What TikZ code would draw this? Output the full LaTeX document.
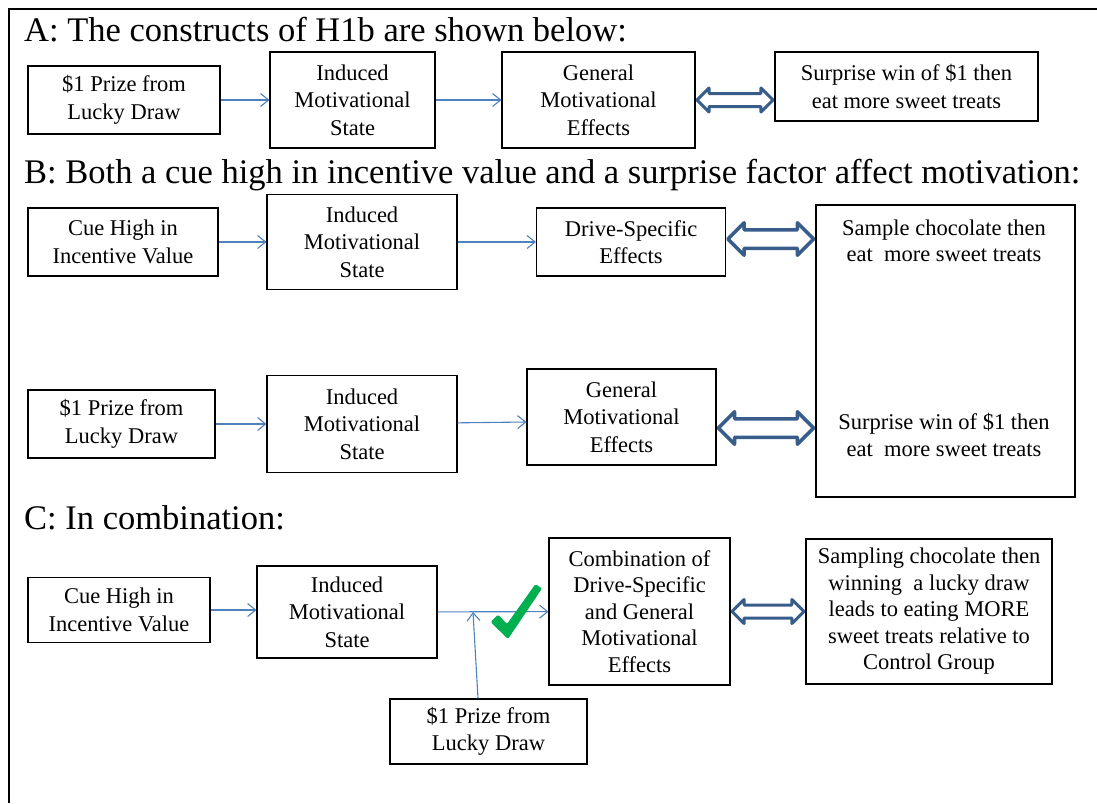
\documentclass[tikz,border=0pt]{standalone}
\usepackage{fontspec}
\setmainfont{Liberation Serif}
\usetikzlibrary{arrows.meta,shapes.arrows,calc}
\definecolor{lineblue}{HTML}{4F81BD}
\definecolor{dblblue}{HTML}{385D8A}
\definecolor{tickgreen}{HTML}{00B050}

\begin{document}
\begin{tikzpicture}[x=1pt,y=-1pt,
	box/.style={draw,line width=1.1pt,align=center,inner sep=0pt,font=\fontsize{22.5}{27.5}\selectfont},
	txt/.style={align=center,inner sep=0pt,font=\fontsize{22.5}{26.5}\selectfont},
	title/.style={anchor=base west,inner sep=0pt,font=\fontsize{34.5}{38}\selectfont},
	>={Straight Barb[length=8pt,width=13pt,line width=1.1pt]},
	arr/.style={->,draw=lineblue,line width=1.1pt},
	dbl/.style n args={3}{to path={let \p1=(\tikztostart),\p2=(\tikztotarget) in
		node[double arrow,draw=dblblue,fill=white,line width=#1,line join=round,inner xsep=0pt,inner ysep=#2,
		double arrow head extend=#3,minimum height={veclen(\x2-\x1,\y2-\y1)-#1}] at ($(\p1)!.5!(\p2)$) {}}},
	smalldbl/.style={dbl={3pt}{5pt}{5.5pt}},
	bigdbl/.style={dbl={3.5pt}{7.5pt}{7pt}}]
	\useasboundingbox (0,0) rectangle (1097,803);
	\draw[line width=2pt] (1097,9) -- (9,9) -- (9,803);

	\node[title] (ta) at (24,41) {A: The constructs of H1b are shown below:};
	\node[box,minimum width=192,minimum height=68] (a1) at (124,100) {\$1 Prize from\\Lucky Draw};
	\node[box,minimum width=165,minimum height=96] (a2) at (352.5,100) {Induced\\Motivational\\State};
	\node[box,minimum width=193,minimum height=96] (a3) at (598.5,100) {General\\Motivational\\Effects};
	\node[box,minimum width=263,minimum height=69] (a4) at (906.5,86.5) {Surprise win of \$1 then\\eat more sweet treats};
	\draw[arr] (a1) -- (a2);
	\draw[arr] (a2) -- (a3);
	\path[smalldbl] (a3.east) to (a3.east -| a4.west);

	\node[title] (tb) at (24,183) {B: Both a cue high in incentive value and a surprise factor affect motivation:};
	\node[box,minimum width=190,minimum height=68] (b1) at (123,242) {Cue High in\\Incentive Value};
	\node[box,minimum width=190,minimum height=95] (b2) at (362,242) {Induced\\Motivational\\State};
	\node[box,minimum width=189,minimum height=68] (b3) at (631,242) {Drive-Specific\\Effects};
	\node[box,minimum width=259,minimum height=292] (b4) at (945.5,351) {};
	\node[txt] (sample) at (944,241) {Sample chocolate then\\eat\ \ more sweet treats};
	\node[txt] (surprise) at (944,435) {Surprise win of \$1 then\\eat\ \ more sweet treats};
	\node[box,minimum width=187,minimum height=68] (b5) at (121.5,424) {\$1 Prize from\\Lucky Draw};
	\node[box,minimum width=190,minimum height=97] (b6) at (362,424) {Induced\\Motivational\\State};
	\node[box,minimum width=189,minimum height=96] (b7) at (621.5,417) {General\\Motivational\\Effects};
	\coordinate (b3r) at ([yshift=3pt]b3.east);
	\coordinate (b7r) at ([yshift=-11pt]b7.east);
	\draw[arr] (b1) -- (b2);
	\draw[arr] (b2) -- (b3);
	\draw[arr] (b5) -- (b6);
	\draw[arr] (b6) -- ([yshift=-5pt]b7.west);
	\path[bigdbl] (b3r) to (b3r -| b4.west);
	\path[bigdbl] (b7r) to (b7r -| b4.west);

	\node[title] (tc) at (24,529) {C: In combination:};
	\node[box,minimum width=182,minimum height=65] (c1) at (119,610) {Cue High in\\Incentive Value};
	\node[box,minimum width=180,minimum height=92] (c2) at (347,612) {Induced\\Motivational\\State};
	\node[box,minimum width=181,minimum height=147,font=\fontsize{22.5}{26.5}\selectfont] (c3) at (639.5,611.5) {Combination of\\Drive-Specific\\and General\\Motivational\\Effects};
	\node[box,minimum width=246,minimum height=145,font=\fontsize{22.5}{26.5}\selectfont] (c4) at (929,611.5) {Sampling chocolate then\\winning\ \ a lucky draw\\leads to eating MORE\\sweet treats relative to\\Control Group};
	\node[box,minimum width=197,minimum height=65] (c5) at (488.5,731.5) {\$1 Prize from\\Lucky Draw};
	\coordinate (join) at (473,612);
	\draw[arr] (c1.east) -- (c1.east -| c2.west);
	\draw[arr] (c2) -- (c3);
	\draw[arr] ([xshift=-10.5pt]c5.north) -- (join);
	\path[smalldbl] (c3.east) to (c3.east -| c4.west);
	\fill[tickgreen,rounded corners=1.5pt] (490.5,622) -- (498,614.5) -- (507,624) -- (535.5,584) -- (542,588.5) -- (508,639) -- cycle;
\end{tikzpicture}
\end{document}
